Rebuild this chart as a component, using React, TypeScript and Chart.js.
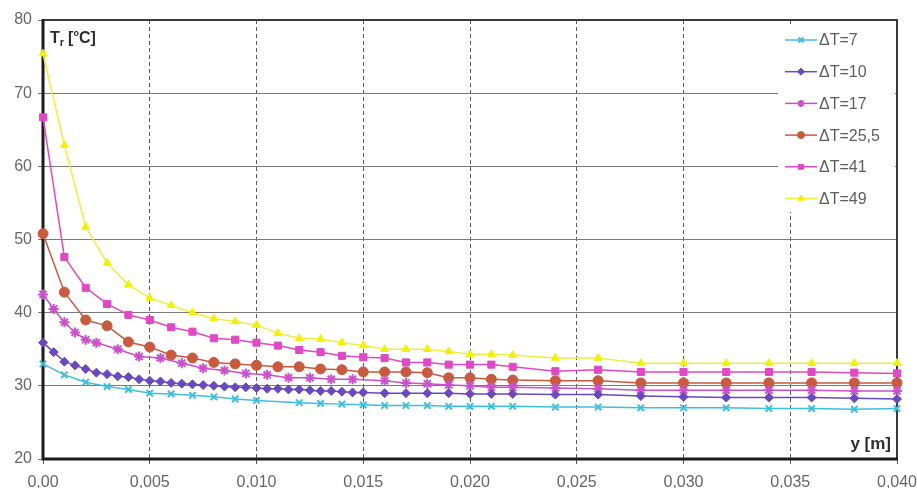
import React, { useEffect, useRef } from 'react';
import { Chart, registerables } from 'chart.js';
import { drawPoint } from 'chart.js/helpers';

Chart.register(...registerables);

// ---- data -------------------------------------------------------------
const seriesLabels = ['ΔT=7', 'ΔT=10', 'ΔT=17', 'ΔT=25,5', 'ΔT=41', 'ΔT=49'];

// distance y [m] and temperature Tr [°C] for each ΔT
const dist7 = [0, 0.001, 0.002, 0.003, 0.004, 0.005, 0.006, 0.007, 0.008, 0.009, 0.010,
  0.012, 0.013, 0.014, 0.015, 0.016, 0.017, 0.018, 0.019, 0.020, 0.021, 0.022,
  0.024, 0.026, 0.028, 0.030, 0.032, 0.034, 0.036, 0.038, 0.040];
const temp7 = [33.0, 31.5, 30.5, 29.9, 29.5, 29.0, 28.9, 28.7, 28.5, 28.2, 28.0,
  27.7, 27.6, 27.5, 27.4, 27.3, 27.3, 27.3, 27.2, 27.2, 27.2, 27.2,
  27.1, 27.1, 27.0, 27.0, 27.0, 26.9, 26.9, 26.8, 26.9];

const dist10 = [0, 0.0005, 0.001, 0.0015, 0.002, 0.0025, 0.003, 0.0035, 0.004, 0.0045,
  0.005, 0.0055, 0.006, 0.0065, 0.007, 0.0075, 0.008, 0.0085, 0.009, 0.0095,
  0.010, 0.0105, 0.011, 0.0115, 0.012, 0.0125, 0.013, 0.0135, 0.014, 0.0145, 0.015,
  0.016, 0.017, 0.018, 0.019, 0.020, 0.021, 0.022,
  0.024, 0.026, 0.028, 0.030, 0.032, 0.034, 0.036, 0.038, 0.040];
const temp10 = [35.9, 34.6, 33.3, 32.8, 32.3, 31.8, 31.6, 31.3, 31.2, 30.9,
  30.7, 30.6, 30.4, 30.3, 30.2, 30.1, 30.0, 29.9, 29.8, 29.8,
  29.7, 29.6, 29.6, 29.5, 29.5, 29.4, 29.3, 29.3, 29.2, 29.1, 29.1,
  29.0, 29.0, 29.0, 29.0, 28.9, 28.9, 28.9,
  28.8, 28.8, 28.6, 28.5, 28.4, 28.4, 28.4, 28.3, 28.2];

const dist17 = [0, 0.0005, 0.001, 0.0015, 0.002, 0.0025, 0.0035, 0.0045, 0.0055, 0.0065,
  0.0075, 0.0085, 0.0095, 0.0105, 0.0115, 0.0125, 0.0135, 0.0145,
  0.016, 0.017, 0.018, 0.019, 0.020, 0.021, 0.022,
  0.024, 0.026, 0.028, 0.030, 0.032, 0.034, 0.036, 0.038, 0.040];
const temp17 = [42.5, 40.5, 38.7, 37.3, 36.3, 35.9, 35.0, 34.0, 33.8, 33.1,
  32.4, 32.1, 31.7, 31.5, 31.1, 31.1, 30.9, 30.9,
  30.7, 30.4, 30.3, 30.1, 30.0, 29.8, 29.8,
  29.7, 29.6, 29.4, 29.4, 29.4, 29.4, 29.4, 29.3, 29.3];

// shared distances for ΔT=25,5 / 41 / 49
const distHot = [0, 0.001, 0.002, 0.003, 0.004, 0.005, 0.006, 0.007, 0.008, 0.009, 0.010,
  0.011, 0.012, 0.013, 0.014, 0.015, 0.016, 0.017, 0.018, 0.019, 0.020, 0.021, 0.022,
  0.024, 0.026, 0.028, 0.030, 0.032, 0.034, 0.036, 0.038, 0.040];
const temp25 = [50.8, 42.8, 39.0, 38.2, 36.0, 35.3, 34.2, 33.8, 33.2, 33.0, 32.8,
  32.6, 32.6, 32.3, 32.2, 31.9, 31.9, 31.9, 31.8, 31.1, 31.1, 30.9, 30.8,
  30.7, 30.7, 30.4, 30.4, 30.4, 30.4, 30.4, 30.4, 30.4];
const temp41 = [66.7, 47.6, 43.4, 41.2, 39.7, 39.0, 38.0, 37.4, 36.5, 36.3, 35.9,
  35.5, 34.9, 34.6, 34.1, 33.9, 33.8, 33.2, 33.2, 32.9, 32.9, 32.9, 32.6,
  32.0, 32.2, 31.9, 31.9, 31.9, 31.9, 31.9, 31.8, 31.7];
const temp49 = [75.4, 62.9, 51.7, 46.8, 43.8, 42.0, 41.0, 40.0, 39.2, 38.8, 38.3,
  37.2, 36.5, 36.4, 35.9, 35.5, 35.0, 35.0, 35.0, 34.7, 34.3, 34.3, 34.2,
  33.8, 33.8, 33.1, 33.1, 33.1, 33.1, 33.1, 33.1, 33.1];

const xTickValues = [0, 0.005, 0.010, 0.015, 0.020, 0.025, 0.030, 0.035, 0.040];
const xTickLabels = ['0,00', '0,005', '0,010', '0,015', '0,020', '0,025', '0,030', '0,035', '0,040'];
const yTickValues = [20, 30, 40, 50, 60, 70, 80];

const FONT = "'Liberation Sans', Arial, sans-serif";

const pts = (xs: number[], ys: number[]) => xs.map((x, i) => ({ x, y: ys[i] }));

const seriesStyle = [
  { line: '#3fbfdc', fill: '#3fbfdc', stroke: '#3fbfdc', style: 'crossRot', r: 4.5, bw: 2 },
  { line: '#6a48c0', fill: '#6a48c0', stroke: '#6a48c0', style: 'rectRot', r: 4.5, bw: 1 },
  { line: '#cc50cc', fill: '#cc50cc', stroke: '#cc50cc', style: 'star', r: 5, bw: 2 },
  { line: '#c85a40', fill: '#c85a40', stroke: '#c85a40', style: 'circle', r: 5, bw: 1 },
  { line: '#e048c4', fill: '#e048c4', stroke: '#e048c4', style: 'rect', r: 5, bw: 1 },
  { line: '#eeee40', fill: '#f2f200', stroke: '#f2f200', style: 'triangle', r: 4.5, bw: 1 },
];

const seriesPoints = [
  pts(dist7, temp7),
  pts(dist10, temp10),
  pts(dist17, temp17),
  pts(distHot, temp25),
  pts(distHot, temp41),
  pts(distHot, temp49),
];

// frame around the plot and the legend panel in the top-right corner
const framePlugin = {
  id: 'frameAndLegend',
  beforeDatasetsDraw(chart: any) {
    const { ctx, chartArea: a } = chart;
    ctx.save();
    // legend panel
    const lx = a.right - 119;
    const ly = a.top + 6;
    ctx.fillStyle = '#ffffff';
    ctx.fillRect(lx, ly, a.right - 2 - lx, 186);
    chart.data.datasets.forEach((ds: any, i: number) => {
      const y = a.top + 20 + i * 31.7;
      ctx.strokeStyle = ds.borderColor;
      ctx.lineWidth = 1.5;
      ctx.setLineDash([]);
      ctx.beginPath();
      ctx.moveTo(lx + 7, y);
      ctx.lineTo(lx + 39, y);
      ctx.stroke();
      ctx.fillStyle = ds.pointBackgroundColor;
      ctx.strokeStyle = ds.pointBorderColor;
      ctx.lineWidth = ds.pointBorderWidth;
      drawPoint(ctx, { pointStyle: ds.pointStyle, rotation: 0, radius: 3.5, borderWidth: ds.pointBorderWidth }, lx + 23, y);
      ctx.fillStyle = '#5e5e5e';
      ctx.font = `16px ${FONT}`;
      ctx.textBaseline = 'middle';
      ctx.textAlign = 'left';
      ctx.fillText(ds.label, lx + 41, y + 1);
    });
    // frame
    ctx.strokeStyle = '#3a3a3a';
    ctx.lineWidth = 2;
    ctx.beginPath();
    ctx.moveTo(a.left, a.top);
    ctx.lineTo(a.right, a.top);
    ctx.lineTo(a.right, a.bottom);
    ctx.stroke();
    ctx.strokeStyle = '#1c1c1c';
    ctx.lineWidth = 3;
    ctx.beginPath();
    ctx.moveTo(a.left, a.top - 1);
    ctx.lineTo(a.left, a.bottom);
    ctx.lineTo(a.right + 1, a.bottom);
    ctx.stroke();
    ctx.restore();
  },
  afterDraw(chart: any) {
    const { ctx, chartArea: a } = chart;
    ctx.save();
    ctx.fillStyle = '#2e2e2e';
    ctx.textAlign = 'left';
    ctx.textBaseline = 'alphabetic';
    // Tr [°C]
    let x = a.left + 7;
    const base = a.top + 23;
    ctx.font = `bold 16px ${FONT}`;
    ctx.fillText('T', x, base);
    x += ctx.measureText('T').width;
    ctx.font = `bold 11px ${FONT}`;
    ctx.fillText('r', x, base + 3);
    x += ctx.measureText('r').width + 4;
    ctx.font = `bold 16px ${FONT}`;
    ctx.fillText('[', x, base);
    x += ctx.measureText('[').width;
    ctx.font = `bold 9px ${FONT}`;
    ctx.fillText('o', x, base - 7);
    x += ctx.measureText('o').width;
    ctx.font = `bold 16px ${FONT}`;
    ctx.fillText('C]', x, base);
    // y [m]
    ctx.textAlign = 'right';
    ctx.font = `bold 17px ${FONT}`;
    ctx.fillText('y [m]', a.right - 6, a.bottom - 10);
    ctx.restore();
  },
};

export default function App() {
  const ref = useRef<HTMLCanvasElement | null>(null);

  useEffect(() => {
    document.body.style.margin = '0';
    const canvas = ref.current;
    if (!canvas) return;
    const chart = new Chart(canvas, {
      type: 'line',
      data: {
        datasets: seriesPoints.map((data, i) => ({
          label: seriesLabels[i],
          data,
          borderColor: seriesStyle[i].line,
          borderWidth: 1.5,
          pointStyle: seriesStyle[i].style as any,
          pointRadius: seriesStyle[i].r,
          pointBackgroundColor: seriesStyle[i].fill,
          pointBorderColor: seriesStyle[i].stroke,
          pointBorderWidth: seriesStyle[i].bw,
          tension: 0,
          fill: false,
          clip: false as any,
        })),
      },
      options: {
        responsive: false,
        animation: false,
        events: [],
        layout: { padding: { top: 20, right: 20, left: 0, bottom: 0 } },
        scales: {
          x: {
            type: 'linear',
            min: 0,
            max: 0.04,
            afterBuildTicks: (s: any) => {
              s.ticks = xTickValues.map((v) => ({ value: v }));
            },
            afterFit: (s: any) => {
              s.height = 29;
              s.paddingLeft = 0;
              s.paddingRight = 0;
            },
            ticks: {
              autoSkip: false,
              maxRotation: 0,
              padding: 9,
              color: '#666666',
              font: { family: FONT, size: 16 },
              callback: (_v: any, i: number) => xTickLabels[i],
            },
            grid: { color: '#5a5a5a', lineWidth: 1, tickLength: 5 },
            border: { display: false, dash: [4, 3] },
          },
          y: {
            type: 'linear',
            min: 20,
            max: 80,
            afterBuildTicks: (s: any) => {
              s.ticks = yTickValues.map((v) => ({ value: v }));
            },
            afterFit: (s: any) => {
              s.width = 43;
              s.paddingTop = 0;
              s.paddingBottom = 0;
            },
            ticks: {
              padding: 6,
              color: '#666666',
              font: { family: FONT, size: 16 },
            },
            grid: { color: '#7a7a7a', lineWidth: 1, tickLength: 5 },
            border: { display: false },
          },
        },
        plugins: {
          legend: { display: false },
          tooltip: { enabled: false },
        },
      },
      plugins: [framePlugin],
    });
    return () => chart.destroy();
  }, []);

  return <canvas ref={ref} width={917} height={488} style={{ display: 'block' }} />;
}
